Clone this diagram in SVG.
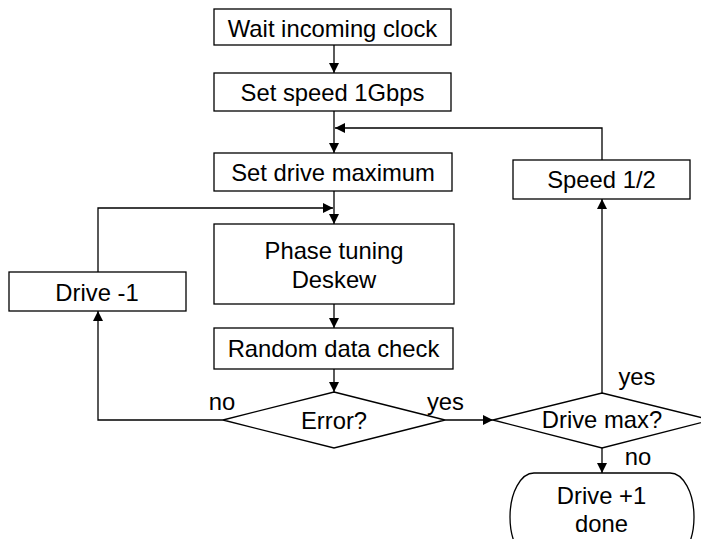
<svg xmlns="http://www.w3.org/2000/svg" width="701" height="539" viewBox="0 0 701 539">
  <defs>
    <marker id="arrow" viewBox="0 0 10 10" refX="10" refY="5" markerWidth="10" markerHeight="10" markerUnits="userSpaceOnUse" orient="auto">
      <path d="M0,0 L10,5 L0,10 Z" fill="#000"/>
    </marker>
  </defs>
  <style>
    .box { fill: #fff; stroke: #000; stroke-width: 1.3; }
    .edge { fill: none; stroke: #000; stroke-width: 1.3; }
    text { font-family: "Liberation Sans", Arial, sans-serif; font-size: 23.8px; fill: #000; text-anchor: middle; }
  </style>
  <rect width="701" height="539" fill="#fff"/>

  <g id="connectors">
    <line class="edge" x1="334" y1="45" x2="334" y2="73" marker-end="url(#arrow)"/>
    <line class="edge" x1="334" y1="111" x2="334" y2="153" marker-end="url(#arrow)"/>
    <line class="edge" x1="334" y1="191" x2="334" y2="224" marker-end="url(#arrow)"/>
    <line class="edge" x1="334" y1="304" x2="334" y2="328" marker-end="url(#arrow)"/>
    <line class="edge" x1="334" y1="369" x2="334" y2="392" marker-end="url(#arrow)"/>
    <!-- no branch: back to Drive -1 -->
    <polyline class="edge" points="223,420 98,420 98,311" marker-end="url(#arrow)"/>
    <!-- Drive -1 loops back above phase tuning -->
    <polyline class="edge" points="98,272 98,208 333,208" marker-end="url(#arrow)"/>
    <!-- yes branch: to Drive max? -->
    <line class="edge" x1="445" y1="420" x2="493" y2="420" marker-end="url(#arrow)"/>
    <!-- Drive max yes: to Speed 1/2 -->
    <line class="edge" x1="602" y1="393" x2="602" y2="199" marker-end="url(#arrow)"/>
    <!-- Speed 1/2 loops back above Set drive maximum -->
    <polyline class="edge" points="602,160 602,128 335,128" marker-end="url(#arrow)"/>
    <!-- Drive max no: to done -->
    <line class="edge" x1="602" y1="448" x2="602" y2="473" marker-end="url(#arrow)"/>
  </g>

  <g id="wait-clock">
    <rect class="box" x="214" y="9" width="237" height="36"/>
    <text x="332.5" y="36.5">Wait incoming clock</text>
  </g>
  <g id="set-speed">
    <rect class="box" x="214" y="73" width="237" height="38"/>
    <text x="332.5" y="100.5">Set speed 1Gbps</text>
  </g>
  <g id="set-drive-max">
    <rect class="box" x="214" y="153" width="238" height="38"/>
    <text x="333" y="180.5">Set drive maximum</text>
  </g>
  <g id="phase-tuning">
    <rect class="box" x="214" y="224" width="240" height="80"/>
    <text x="334" y="259">Phase tuning</text>
    <text x="334" y="287.5">Deskew</text>
  </g>
  <g id="random-check">
    <rect class="box" x="214" y="328" width="239" height="41"/>
    <text x="333.5" y="356.5">Random data check</text>
  </g>
  <g id="error">
    <polygon class="box" points="334,392 445,420 334,448 223,420"/>
    <text x="334" y="429">Error?</text>
    <text x="222" y="410">no</text>
    <text x="445.5" y="410">yes</text>
  </g>
  <g id="drive-minus">
    <rect class="box" x="9" y="272" width="177" height="39"/>
    <text x="97" y="300.5">Drive -1</text>
  </g>
  <g id="speed-half">
    <rect class="box" x="513" y="160" width="177" height="39"/>
    <text x="601.5" y="188">Speed 1/2</text>
  </g>
  <g id="drive-max">
    <polygon class="box" points="602,393 711,420 602,448 493,420"/>
    <text x="602" y="428">Drive max?</text>
    <text x="637" y="385">yes</text>
    <text x="638" y="465">no</text>
  </g>
  <g id="drive-plus-done">
    <rect class="box" x="510" y="473" width="184" height="88" rx="24" ry="44"/>
    <text x="601.5" y="504">Drive +1</text>
    <text x="601.5" y="532">done</text>
  </g>
</svg>
